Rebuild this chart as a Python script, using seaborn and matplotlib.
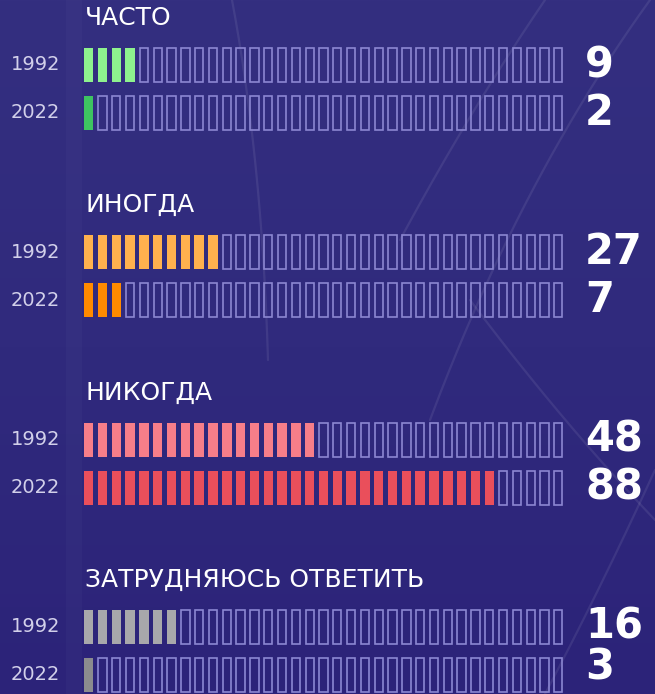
import numpy as np
import pandas as pd
import matplotlib
matplotlib.use("Agg")
import matplotlib.pyplot as plt
from matplotlib.colors import LinearSegmentedColormap
import seaborn as sns

# ---------------- data ----------------
categories = ["ЧАСТО", "ИНОГДА", "НИКОГДА", "ЗАТРУДНЯЮСЬ ОТВЕТИТЬ"]
years = ["1992", "2022"]
values_1992 = [9, 27, 48, 16]
values_2022 = [2, 7, 88, 3]
# filled segments (35 segments per bar)
segments_1992 = [4, 10, 17, 7]
segments_2022 = [1, 3, 30, 1]
n_segments = 35
colors_1992 = ["#8ef28e", "#ffb14e", "#f77e89", "#a8a8ab"]
colors_2022 = ["#3ec461", "#ff8a00", "#ea4f5b", "#8b8b8e"]

# ---------------- style ----------------
sns.set_theme(style="white")
plt.rcParams['font.family'] = ['DejaVu Sans']

W, H = 655, 694
fig = plt.figure(figsize=(W / 100, H / 100), dpi=100)

# background
bg = fig.add_axes([0, 0, 1, 1])
bg.set_xlim(0, W)
bg.set_ylim(H, 0)
bg.axis('off')
grad = np.linspace(0, 1, 256)[:, None] * np.ones((1, 8))
cmap = LinearSegmentedColormap.from_list('bg', ['#342f80', '#302a7d', '#2c2379'])
bg.imshow(grad, extent=[0, W, H, 0], cmap=cmap, aspect='auto', zorder=0)
# faint vertical band
bg.axvspan(66, 82, color='#ffffff', alpha=0.025, lw=0, zorder=1)
# faint decorative curves
t = np.linspace(0, 1, 200)
curves = [
    ((650, 0), (520, 180), (430, 420)),
    ((545, 0), (470, 110), (400, 240)),
    ((232, 0), (262, 160), (268, 360)),
    ((655, 470), (600, 590), (545, 694)),
    ((470, 300), (560, 420), (655, 520)),
]
for p0, p1, p2 in curves:
    p0, p1, p2 = map(np.array, (p0, p1, p2))
    pts = ((1 - t)[:, None] ** 2) * p0 + 2 * ((1 - t) * t)[:, None] * p1 + (t[:, None] ** 2) * p2
    bg.plot(pts[:, 0], pts[:, 1], color='#ffffff', alpha=0.08, lw=1.6, zorder=1)

# ---------------- layout ----------------
bar_left, bar_right = 84, 563
bar_h = 34
group_step = 187.3
header_y0, y1992_0, y2022_0 = 18, 65, 113
empty_color = '#8c87d2'

rows = []
for g, cat in enumerate(categories):
    rows.append((cat, "1992", values_1992[g], segments_1992[g], colors_1992[g], y1992_0 + g * group_step))
    rows.append((cat, "2022", values_2022[g], segments_2022[g], colors_2022[g], y2022_0 + g * group_step))

for g, cat in enumerate(categories):
    fig.text(85 / W, 1 - (header_y0 + g * group_step) / H, cat, ha='left', va='center',
             fontsize=18, color='white')

for cat, yr, val, k, col, cy in rows:
    ax = fig.add_axes([bar_left / W, 1 - (cy + bar_h / 2 + 1) / H,
                       (bar_right - bar_left) / W, (bar_h + 2) / H])
    seg = pd.DataFrame({'seg': np.arange(n_segments), 'h': 1.0})
    seg['filled'] = seg['seg'] < k
    filled = seg[seg['filled']]
    empty = seg[~seg['filled']]
    if len(filled):
        sns.barplot(data=filled, x='seg', y='h', native_scale=True, color=col, saturation=1,
                    width=0.68, errorbar=None, linewidth=0, ax=ax)
    if len(empty):
        sns.barplot(data=empty, x='seg', y='h', native_scale=True, color=empty_color, saturation=1,
                    fill=False, width=0.6, errorbar=None, linewidth=1.2, ax=ax)
    ax.set_xlim(-0.34, n_segments - 1 + 0.34)
    ax.set_ylim(-1 / bar_h, 1 + 1 / bar_h)
    ax.axis('off')
    ax.patch.set_alpha(0)

    fig.text(60 / W, 1 - cy / H, yr, ha='right', va='center', fontsize=14, color='#d2d0ea')
    fig.text(585 / W, 1 - min(cy, 668) / H, str(val), ha='left', va='center', fontsize=30,
             fontweight='bold', color='white')

fig.savefig("out.png", dpi=100)
